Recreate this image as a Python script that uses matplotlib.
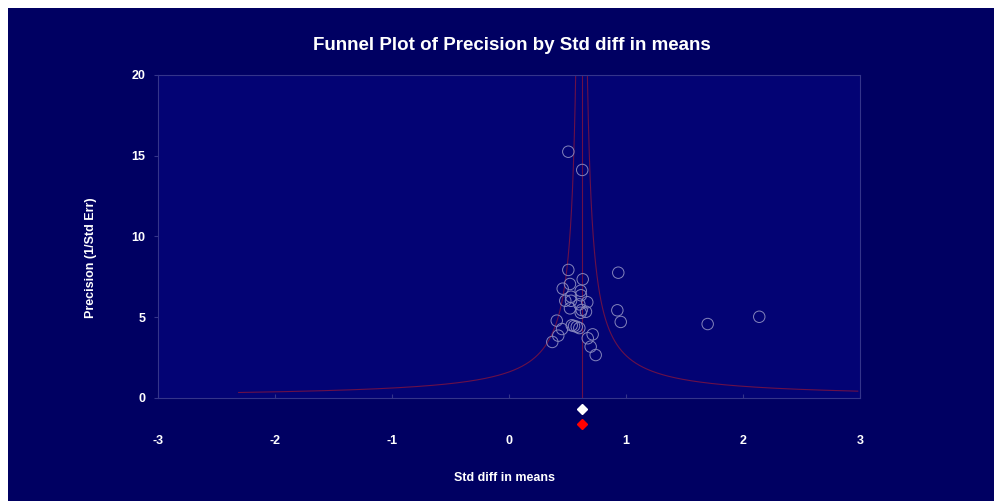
import numpy as np
import matplotlib
matplotlib.use("Agg")
import matplotlib.pyplot as plt
from matplotlib.patches import Rectangle

# ---- data ----
std_diff = [0.507, 0.626, 0.507, 0.934, 0.630, 0.521, 0.459, 0.613, 0.530, 0.615,
            0.481, 0.530, 0.669, 0.601, 0.521, 0.621, 0.658, 0.613, 0.926, 0.955,
            0.408, 0.536, 0.556, 0.579, 0.601, 0.453, 0.715, 0.421, 0.673, 0.370,
            0.698, 0.741, 1.698, 2.139]
precision = [15.25, 14.12, 7.93, 7.76, 7.35, 7.06, 6.77, 6.64, 6.27, 6.36,
             6.02, 6.02, 5.93, 5.80, 5.55, 5.45, 5.34, 5.28, 5.43, 4.71,
             4.79, 4.50, 4.46, 4.41, 4.33, 4.27, 3.94, 3.86, 3.70, 3.47,
             3.18, 2.66, 4.58, 5.03]
mean_effect = 0.62
funnel_k = 1.0
summary_x = [0.62, 0.62]
summary_y = [-0.68, -1.60]
summary_colors = ["white", "#ff0000"]
x_ticks = [-3, -2, -1, 0, 1, 2, 3]
y_ticks = [0, 5, 10, 15, 20]

W, H = 995, 501
fig = plt.figure(figsize=(W / 100, H / 100), dpi=100, facecolor="white")
bg = Rectangle((8 / W, 0), 1 - 8 / W, 1 - 8 / H, transform=fig.transFigure,
               facecolor="#000062", edgecolor="none", zorder=-10)
fig.patches.append(bg)

ax = fig.add_axes([158 / W, 1 - 398 / H, 702 / W, 323 / H])
ax.set_zorder(5)
ax.set_facecolor("#030374")
ax.set_xlim(-3, 3)
ax.set_ylim(0, 20)

fam = ["Liberation Sans Narrow", "Liberation Sans", "DejaVu Sans"]

# funnel
p = np.linspace(0.3, 25, 3000)
xl = mean_effect - funnel_k / p
xr = mean_effect + funnel_k / p
ml = xl >= -2.35
mr = xr <= 3.0
fc = "#6a1048"
ax.plot(xl[ml], p[ml], color=fc, lw=0.8, zorder=2)
ax.plot(xr[mr], p[mr], color=fc, lw=0.8, zorder=2)
ax.plot([mean_effect, mean_effect], [0, 20], color=fc, lw=0.8, zorder=2)

ax.scatter(std_diff, precision, s=68, facecolors="none", edgecolors="#8484bc",
           linewidths=0.7, zorder=3)

for xv, yv, c in zip(summary_x, summary_y, summary_colors):
    ax.plot([xv], [yv], marker="D", ms=5.5, color=c, clip_on=False, zorder=4)

for s in ax.spines.values():
    s.set_color("#34348a")
    s.set_linewidth(0.8)

ax.set_xticks(x_ticks)
ax.set_yticks(y_ticks)
ax.set_xticklabels([str(t) for t in x_ticks])
ax.set_yticklabels([str(t) for t in y_ticks])
ax.tick_params(axis="x", direction="in", length=3, color="#34348a", pad=27,
               labelcolor="white", labelsize=9)
ax.tick_params(axis="y", direction="out", length=3, color="#34348a", pad=6,
               labelcolor="white", labelsize=9)
for lab in ax.get_xticklabels() + ax.get_yticklabels():
    lab.set_fontweight("bold")
    lab.set_family(fam)

fig.text(512 / W, 1 - 45 / H, "Funnel Plot of Precision by Std diff in means",
         ha="center", va="center", color="white", fontsize=13.5, fontweight="bold",
         family=fam)
fig.text(505 / W, 1 - 478 / H, "Std diff in means", ha="center", va="center",
         color="white", fontsize=9, fontweight="bold", family=fam)
fig.text(91 / W, 1 - 258 / H, "Precision (1/Std Err)", ha="center", va="center",
         rotation=90, color="white", fontsize=9, fontweight="bold", family=fam)

fig.savefig("out.png", dpi=100, facecolor="white")
